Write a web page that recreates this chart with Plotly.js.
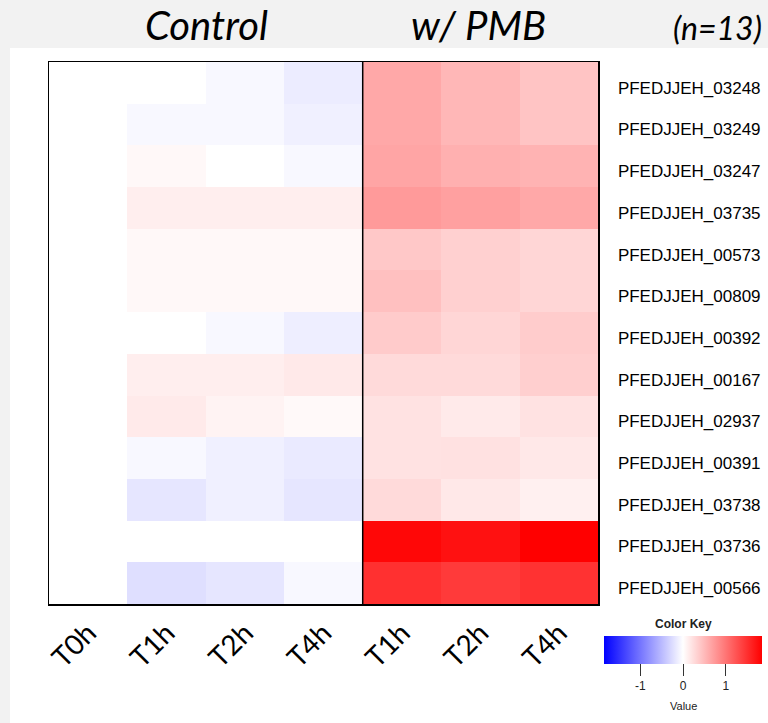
<!DOCTYPE html>
<html>
<head>
<meta charset="utf-8">
<script src="https://cdn.plot.ly/plotly-3.0.1.min.js"></script>
<style>html,body{margin:0;padding:0;background:#f2f2f2;}#chart{width:768px;height:723px;}</style>
</head>
<body>
<div id="chart"></div>
<script>
// Row labels (top to bottom)
const genes = [
  "PFEDJJEH_03248","PFEDJJEH_03249","PFEDJJEH_03247","PFEDJJEH_03735",
  "PFEDJJEH_00573","PFEDJJEH_00809","PFEDJJEH_00392","PFEDJJEH_00167",
  "PFEDJJEH_02937","PFEDJJEH_00391","PFEDJJEH_03738","PFEDJJEH_03736",
  "PFEDJJEH_00566"
];
// Column labels
const controlTimes = ["T0h","T1h","T2h","T4h"];
const pmbTimes = ["T1h","T2h","T4h"];
// Values, control group: T0h, T1h, T2h, T4h
const controlValues = [
  [0, 0.00, -0.05, -0.14],
  [0, -0.05, -0.05, -0.11],
  [0, 0.05, 0.00, -0.05],
  [0, 0.12, 0.12, 0.12],
  [0, 0.05, 0.05, 0.05],
  [0, 0.05, 0.05, 0.05],
  [0, 0.00, -0.05, -0.12],
  [0, 0.12, 0.12, 0.16],
  [0, 0.15, 0.09, 0.04],
  [0, -0.05, -0.11, -0.15],
  [0, -0.18, -0.11, -0.18],
  [0, 0.00, 0.00, 0.00],
  [0, -0.23, -0.18, -0.05]
];
// w/ PMB group: T1h, T2h, T4h
const pmbValues = [
  [0.63, 0.52, 0.43],
  [0.63, 0.52, 0.43],
  [0.65, 0.57, 0.55],
  [0.73, 0.69, 0.63],
  [0.40, 0.34, 0.30],
  [0.46, 0.34, 0.30],
  [0.38, 0.30, 0.37],
  [0.27, 0.27, 0.35],
  [0.21, 0.15, 0.21],
  [0.21, 0.22, 0.17],
  [0.27, 0.17, 0.11],
  [1.80, 1.73, 1.85],
  [1.50, 1.43, 1.49]
];
const keyTicks = [-1, 0, 1];
const zLimit = 1.85;

const allTimes = controlTimes.concat(pmbTimes);
const xIdx = allTimes.map((_, i) => i);
const z = genes.map((g, r) => controlValues[r].concat(pmbValues[r]));

const trace = {
  type: "heatmap",
  x: xIdx,
  y: genes,
  z: z,
  zmin: -zLimit,
  zmax: zLimit,
  colorscale: [[0, "#0000ff"], [0.5, "#ffffff"], [1, "#ff0000"]],
  hoverinfo: "z",
  colorbar: {
    orientation: "h",
    lenmode: "pixels",
    len: 158,
    thickness: 28,
    thicknessmode: "pixels",
    x: 1.155,
    xanchor: "center",
    y: -0.059,
    yanchor: "top",
    xpad: 0,
    ypad: 0,
    outlinewidth: 0,
    tickmode: "array",
    tickvals: keyTicks,
    ticktext: keyTicks.map(String),
    ticks: "outside",
    ticklen: 12,
    tickcolor: "#333",
    tickfont: {family: "Liberation Sans, Arial", size: 12, color: "#222"}
  }
};

const sepX = controlTimes.length - 0.5;

const layout = {
  width: 768,
  height: 723,
  margin: {l: 49, r: 170, t: 62, b: 119, autoexpand: false},
  paper_bgcolor: "#f2f2f2",
  plot_bgcolor: "#ffffff",
  showlegend: false,
  xaxis: {
    tickmode: "array",
    tickvals: xIdx,
    ticktext: allTimes,
    tickangle: -45,
    ticks: "",
    tickfont: {family: "Lato, Carlito, sans-serif", size: 28, color: "#000"},
    showline: true, mirror: true, linecolor: "#000", linewidth: 1.5,
    showgrid: false, zeroline: false, fixedrange: true, automargin: false
  },
  yaxis: {
    type: "category",
    autorange: "reversed",
    side: "right",
    ticks: "",
    ticklabelstandoff: 15,
    ticklabelshift: -5,
    tickfont: {family: "Liberation Sans, Arial", size: 17, color: "#000"},
    showline: true, mirror: true, linecolor: "#000", linewidth: 1.5,
    showgrid: false, zeroline: false, fixedrange: true, automargin: false
  },
  shapes: [
    {type: "rect", xref: "paper", yref: "paper", x0: -39/549, x1: 719/549, y0: -119/542, y1: 556/542,
     fillcolor: "#ffffff", line: {width: 0}, layer: "below"},
    {type: "line", xref: "x", yref: "paper", x0: sepX, x1: sepX, y0: 0, y1: 1,
     line: {color: "#000", width: 1.5}}
  ],
  annotations: [
    {text: "Control", xref: "paper", yref: "paper", x: (206-49)/549, y: (604-25)/542,
     xanchor: "center", yanchor: "middle", showarrow: false,
     font: {family: "Lato, Carlito, sans-serif", size: 40, color: "#000", style: "italic"}},
    {text: "w/ PMB", xref: "paper", yref: "paper", x: (478-49)/549, y: (604-25)/542,
     xanchor: "center", yanchor: "middle", showarrow: false,
     font: {family: "Lato, Carlito, sans-serif", size: 40, color: "#000", style: "italic"}},
    {text: "(n=13)", xref: "paper", yref: "paper", x: (717-49)/549, y: (604-28)/542,
     xanchor: "center", yanchor: "middle", showarrow: false,
     font: {family: "Lato, Carlito, sans-serif", size: 32, color: "#000", style: "italic"}},
    {text: "<b>Color Key</b>", xref: "paper", yref: "paper", x: (683-49)/549, y: (604-624)/542,
     xanchor: "center", yanchor: "middle", showarrow: false,
     font: {family: "Liberation Sans, Arial", size: 12, color: "#222"}},
    {text: "Value", xref: "paper", yref: "paper", x: (683-49)/549, y: (604-706)/542,
     xanchor: "center", yanchor: "middle", showarrow: false,
     font: {family: "Liberation Sans, Arial", size: 11, color: "#222"}}
  ]
};

Plotly.newPlot("chart", [trace], layout, {displayModeBar: false, staticPlot: true});
</script>
</body>
</html>
